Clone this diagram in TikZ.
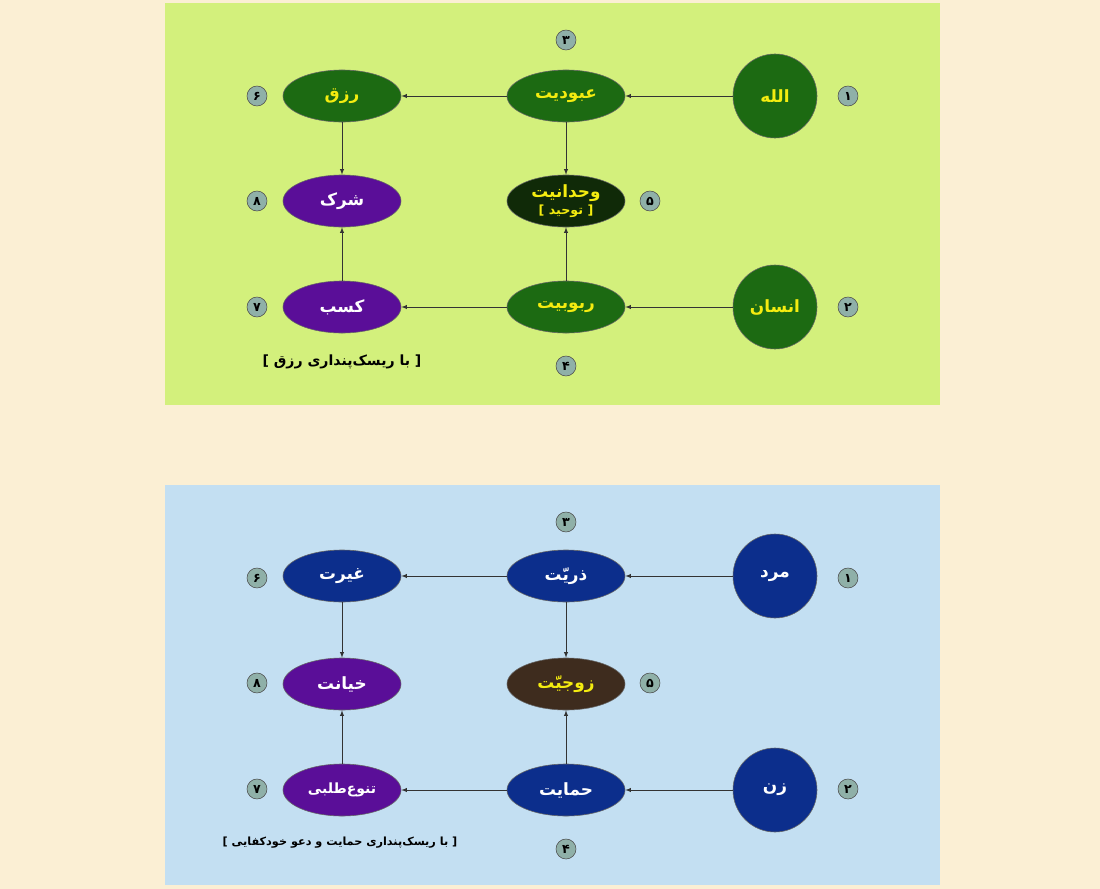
\documentclass[tikz,border=0pt]{standalone}
\usepackage{fontspec}
\newfontfamily\fa{DejaVu Sans}[Script=Arabic]
\TeXXeTstate=1
\usetikzlibrary{shapes.geometric}
\definecolor{bgcream}{HTML}{FBEFD4}
\definecolor{panelgreen}{HTML}{D3F07C}
\definecolor{panelblue}{HTML}{C3DFF2}
\definecolor{leafgreen}{HTML}{1C6A12}
\definecolor{deepgreen}{HTML}{102A08}
\definecolor{royalpurple}{HTML}{5A0E98}
\definecolor{navyblue}{HTML}{0C2E8C}
\definecolor{earthbrown}{HTML}{3E2C1E}
\definecolor{goldtext}{HTML}{F4EC10}
\definecolor{badgegray}{HTML}{8FB0A8}
\newcommand{\fatext}[1]{{\fa\bfseries\beginR #1\endR}}
\tikzset{
  oval/.style={ellipse, minimum width=2.95cm, minimum height=1.3cm, inner sep=1pt, draw=black!60, fill=#1, font=\large},
  disc/.style={circle, minimum size=2.1cm, draw=black!60, fill=leafgreen, text=goldtext, font=\large},
  badge/.style={circle, minimum size=0.5cm, inner sep=0pt, draw=black!70, fill=badgegray, font=\small},
  link/.style={-latex, black!80, thin},
  caption/.style={font=\footnotesize}
}
\begin{document}
\begin{tikzpicture}[x=0.025cm, y=-0.025cm]
  \fill[bgcream] (0,0) rectangle (1100,889);
  \useasboundingbox (0,0) rectangle (1100,889);

  % top panel
  \fill[panelgreen] (165,3) rectangle (940,405);
  \node[disc] (Allah) at (775,96) {\fatext{الله}};
  \node[disc] (Ensan) at (775,307) {\fatext{انسان}};
  \node[oval=leafgreen, text=goldtext] (Ubudiyat) at (566,96) {\fatext{عبودیت}};
  \node[oval=leafgreen, text=goldtext] (Rizq) at (342,96) {\fatext{رزق}};
  \node[oval=deepgreen, text=goldtext, align=center] (Vahdaniyat) at (566,201)
    {\fatext{وحدانیت}\\[-2pt]{\small\fatext{[ توحید ]}}};
  \node[oval=royalpurple, text=white] (Shirk) at (342,201) {\fatext{شرک}};
  \node[oval=leafgreen, text=goldtext] (Rububiyat) at (566,307) {\fatext{ربوبیت}};
  \node[oval=royalpurple, text=white] (Kasb) at (342,307) {\fatext{کسب}};
  \node[caption, font=\normalsize] (CaptionTop) at (342,362) {\fatext{[ با ریسک‌پنداری رزق ]}};

  \draw[link] (Allah) -- (Ubudiyat);
  \draw[link] (Ubudiyat) -- (Rizq);
  \draw[link] (Ubudiyat) -- (Vahdaniyat);
  \draw[link] (Rizq) -- (Shirk);
  \draw[link] (Ensan) -- (Rububiyat);
  \draw[link] (Rububiyat) -- (Kasb);
  \draw[link] (Rububiyat) -- (Vahdaniyat);
  \draw[link] (Kasb) -- (Shirk);

  % bottom panel
  \fill[panelblue] (165,485) rectangle (940,885);
  \node[disc, fill=navyblue, text=white] (Mard) at (775,576) {\fatext{مرد}};
  \node[disc, fill=navyblue, text=white] (Zan) at (775,790) {\fatext{زن}};
  \node[oval=navyblue, text=white] (Zorriyat) at (566,576) {\fatext{ذریّت}};
  \node[oval=navyblue, text=white] (Gheyrat) at (342,576) {\fatext{غیرت}};
  \node[oval=earthbrown, text=goldtext] (Zowjiyat) at (566,684) {\fatext{زوجیّت}};
  \node[oval=royalpurple, text=white] (Khianat) at (342,684) {\fatext{خیانت}};
  \node[oval=navyblue, text=white] (Hemayat) at (566,790) {\fatext{حمایت}};
  \node[oval=royalpurple, text=white, font=\normalsize] (Tanavo) at (342,790) {\fatext{تنوع‌طلبی}};
  \node[caption] (CaptionBottom) at (340,843) {\fatext{[ با ریسک‌پنداری حمایت و دعو خودکفایی ]}};

  \draw[link] (Mard) -- (Zorriyat);
  \draw[link] (Zorriyat) -- (Gheyrat);
  \draw[link] (Zorriyat) -- (Zowjiyat);
  \draw[link] (Gheyrat) -- (Khianat);
  \draw[link] (Zan) -- (Hemayat);
  \draw[link] (Hemayat) -- (Tanavo);
  \draw[link] (Hemayat) -- (Zowjiyat);
  \draw[link] (Tanavo) -- (Khianat);

  % number badges
  \foreach \dy/\p in {0/t, 482/b} {
    \node[badge] (one\p) at (848,96+\dy) {\fatext{۱}};
    \node[badge] (two\p) at (848,307+\dy) {\fatext{۲}};
    \node[badge] (three\p) at (566,40+\dy) {\fatext{۳}};
    \node[badge] (five\p) at (650,201+\dy) {\fatext{۵}};
    \node[badge] (six\p) at (257,96+\dy) {\fatext{۶}};
    \node[badge] (seven\p) at (257,307+\dy) {\fatext{۷}};
    \node[badge] (eight\p) at (257,201+\dy) {\fatext{۸}};
  }
  \node[badge] (fourt) at (566,366) {\fatext{۴}};
  \node[badge] (fourb) at (566,849) {\fatext{۴}};
\end{tikzpicture}
\end{document}
